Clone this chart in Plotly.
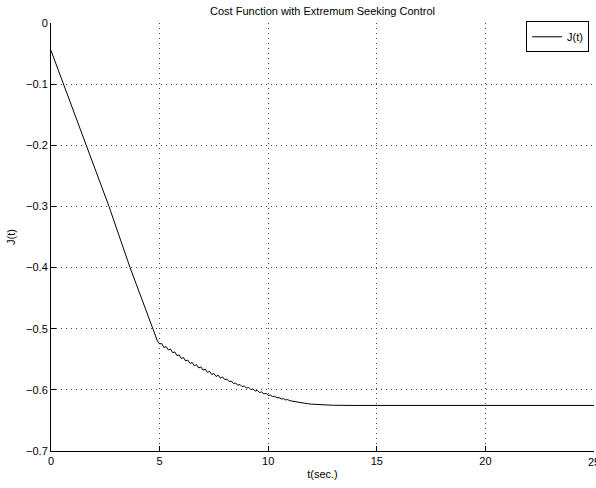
import plotly.graph_objects as go

# Time samples (s)
t_vals = [0.0, 0.57, 1.63, 2.67, 3.64, 4.68, 4.9,
          5.0, 5.1, 5.2, 5.3, 5.4, 5.5, 5.6, 5.7, 5.8, 5.9,
          6.0, 6.1, 6.2, 6.3, 6.4, 6.5, 6.6, 6.7, 6.8, 6.9,
          7.0, 7.1, 7.2, 7.3, 7.4, 7.5, 7.6, 7.7, 7.8, 7.9,
          8.0, 8.1, 8.2, 8.3, 8.4, 8.5, 8.6, 8.7, 8.8, 8.9,
          9.0, 9.1, 9.2, 9.3, 9.4, 9.5, 9.6, 9.7, 9.8, 9.9,
          10.0, 10.1, 10.2, 10.3, 10.4, 10.5, 10.6, 10.7, 10.8, 10.9,
          11.0, 11.2, 11.4, 11.6, 11.8, 12.0, 12.5, 13.0, 14.0, 25.0]

# Cost function J(t)
J_vals = [-0.045, -0.100, -0.200, -0.300, -0.400, -0.500, -0.520,
          -0.5248, -0.5242, -0.5308, -0.5292, -0.5348, -0.5332, -0.5392, -0.5380, -0.5440, -0.5428,
          -0.5488, -0.5472, -0.5528, -0.5512, -0.5568, -0.5552, -0.5606, -0.5588, -0.5642, -0.5624,
          -0.5678, -0.5660, -0.5714, -0.5696, -0.5750, -0.5732, -0.5782, -0.5760, -0.5810, -0.5788,
          -0.5832, -0.5824, -0.5864, -0.5856, -0.5896, -0.5888, -0.5924, -0.5912, -0.5948, -0.5936,
          -0.5972, -0.5960, -0.5996, -0.5984, -0.6020, -0.6008, -0.6044, -0.6032, -0.6068, -0.6056,
          -0.6090, -0.6086, -0.6110, -0.6106, -0.6130, -0.6126, -0.6148, -0.6144, -0.6164, -0.6160,
          -0.6178, -0.6192, -0.6205, -0.6216, -0.6226, -0.6234, -0.6246, -0.6252, -0.6255, -0.6255]

x_ticks = [0, 5, 10, 15, 20, 25]
y_ticks = [0, -0.1, -0.2, -0.3, -0.4, -0.5, -0.6, -0.7]

FONT = "Liberation Sans, Arial, Helvetica, sans-serif"

fig = go.Figure()
fig.add_trace(go.Scatter(x=t_vals, y=J_vals, mode="lines", name="J(t)",
                         line=dict(color="black", width=1)))

axis_common = dict(
    showline=True, linecolor="black", linewidth=1,
    ticks="inside", ticklen=5, tickcolor="black", tickwidth=1,
    showgrid=True, gridcolor="#444444", griddash="1px,4px", gridwidth=1,
    zeroline=False, mirror=False,
    tickfont=dict(family=FONT, size=11, color="black"),
)

fig.update_xaxes(range=[0, 25], tickvals=x_ticks,
                 title=dict(text="t(sec.)", font=dict(family=FONT, size=11, color="black"), standoff=4),
                 **axis_common)
fig.update_yaxes(range=[-0.7, 0], tickvals=y_ticks,
                 title=dict(text="J(t)", font=dict(family=FONT, size=11, color="black"), standoff=8),
                 **axis_common)

# last x tick label (clipped at the window edge as in the original)
fig.add_annotation(x=x_ticks[-1], y=0, xref="x", yref="paper", yanchor="top",
                   xanchor="center", yshift=-3, text=str(x_ticks[-1]), showarrow=False,
                   font=dict(family=FONT, size=11, color="black"))

fig.update_layout(
    width=596, height=488,
    margin=dict(l=51, r=2, t=23, b=37),
    paper_bgcolor="white", plot_bgcolor="white",
    title=dict(text="Cost Function with Extremum Seeking Control",
               font=dict(family=FONT, size=11, color="black"),
               x=0.5, xref="paper", y=0.985, yanchor="top"),
    legend=dict(x=0.991, y=1.004, xanchor="right", yanchor="top",
                bgcolor="white", bordercolor="black", borderwidth=1,
                font=dict(family=FONT, size=11, color="black"),
                itemwidth=30, tracegroupgap=0),
    showlegend=True,
)

fig.write_html("out.html")
